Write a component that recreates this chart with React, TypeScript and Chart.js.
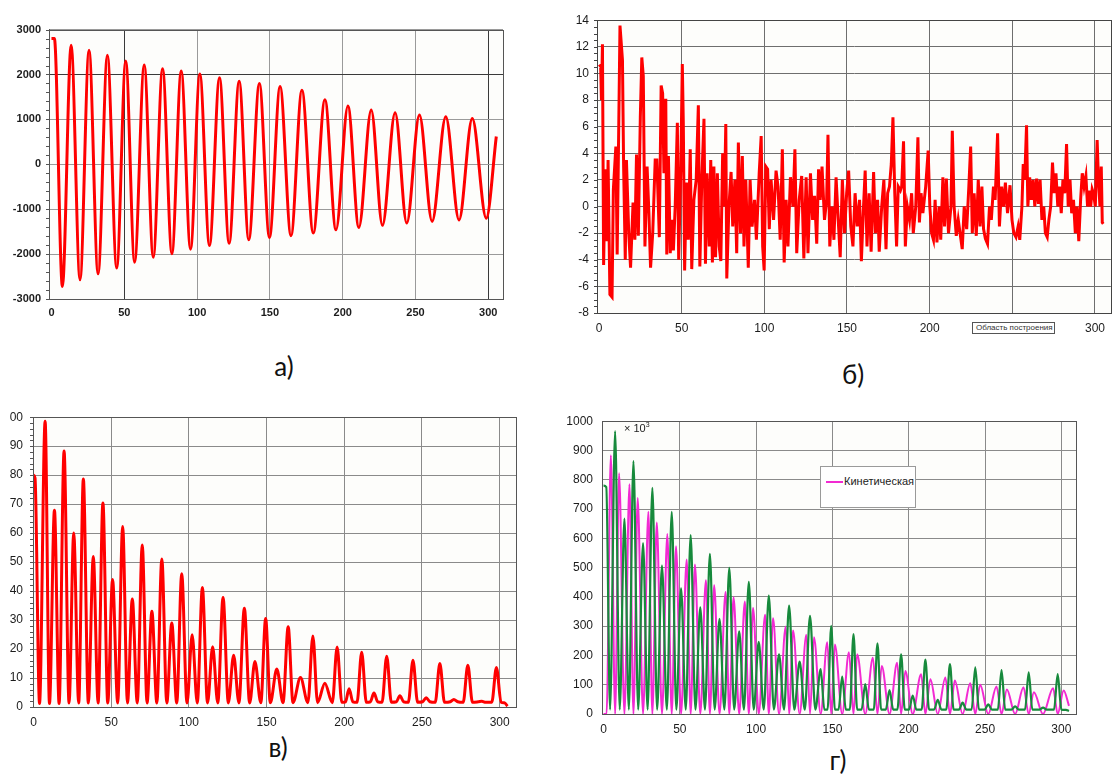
import React, { useEffect, useRef } from 'react';
import { Chart, registerables } from 'chart.js';

Chart.register(...registerables);

const FONT = "'Liberation Sans', Arial, sans-serif";

// ---------------- DATA ----------------
const xTicks = [0, 50, 100, 150, 200, 250, 300];

// а) displacement
const aYTicks = [-3000, -2000, -1000, 0, 1000, 2000, 3000];
const aX = [0, 2, 7.5, 13.5, 19.6, 25.8, 32.0, 38.4, 44.8, 51.0, 57.1, 63.7, 69.9, 76.3, 82.7, 89.1, 95.5, 101.9, 108.5, 115.4, 122.0, 128.9, 135.5, 142.8, 149.7, 157.0, 164.5, 172.0, 179.8, 187.8, 195.4, 203.6, 211.1, 219.6, 227.3, 236.0, 244.0, 252.7, 261.4, 270.8, 279.9, 289.0, 298.6, 305.5];
const aY = [2800, 2800, -2720, 2650, -2570, 2540, -2440, 2430, -2310, 2300, -2180, 2210, -2070, 2130, -1990, 2080, -1890, 2010, -1810, 1930, -1760, 1850, -1680, 1800, -1630, 1730, -1590, 1650, -1530, 1440, -1460, 1300, -1410, 1210, -1360, 1150, -1310, 1100, -1270, 1060, -1240, 1020, -1200, 620];

// б) noisy signal
const bYTicks = [-8, -6, -4, -2, 0, 2, 4, 6, 8, 10, 12, 14];
const bSignal: [number, number][] = [
  [0, 10.5], [1.0, 10.6], [1.5, 8.0], [2.1, 12.2], [2.8, -4.4], [3.8, 2.8], [4.9, -2.6], [5.5, 3.5], [6.6, -6.6], [7.9, -6.8],
  [8.7, 1.3], [10.2, 4.5], [11.0, -3.6], [12.7, 13.6], [14.2, 11], [14.9, 3], [15.9, -4], [16.6, 3.5], [18, -2], [19.1, -4.6],
  [20.6, 0.3], [21.7, -2.5], [22.7, 3.9], [23.8, -2.2], [25, 6.7], [25.9, 11.2], [26.8, 9.8], [27.8, -3], [29.1, 3], [30.2, -0.5],
  [31.2, -4.6], [32.5, -2], [34, 3.5], [35, 3.5], [36.5, -2.3], [37.6, 9.1], [38.5, 8.5], [39.3, 2.5], [40.4, 8.1], [41, -3.6],
  [42, 3.8], [43.1, -3.5], [44.2, -1], [45, -3.3], [46.1, 0], [47.4, 6.3], [48.2, -4], [49.5, 3], [50.4, 10.7], [51, 6.3],
  [51.8, -4.8], [52.9, 1.8], [54, -2.5], [55.2, 4.3], [56.1, -4.7], [57.4, 0.5], [58.8, 2], [60.1, 7.6], [61, -4.5], [62.2, 2],
  [63.5, 6.6], [64.4, -4.3], [65.4, 2.5], [66.7, -3], [67.6, 3.5], [68.6, -4.2], [69.5, 3], [70.5, -3.8], [71.6, 2.5], [72.7, -3],
  [73.7, -4.1], [74.8, 4], [75.8, 0], [76.7, 6.2], [77.3, -5.4], [78.6, 0], [79.9, 2.6], [80.9, -1.5], [82.2, 2], [83.3, -3.5],
  [84.3, 4.8], [85.6, -2], [86.7, 3.8], [87.7, -3], [88.8, 2], [90.3, -4.6], [91.4, 2], [92.6, -1.5], [94.1, 0.5], [95.2, -2.5],
  [96.9, 2.5], [98.1, 5.3], [99, -3], [99.9, -4.8], [100.9, 3], [102, 2.8], [103, -1.7], [104.1, 2], [105.6, -1], [107.1, 2.7],
  [108.3, 1.5], [109.6, -2.5], [110.9, 4.3], [112, -4.2], [113.2, 0.5], [114.3, -3], [115.8, 2.2], [117.3, 0], [118.5, 4.3], [119.6, -3.5],
  [121.1, 0.5], [122.6, 2.3], [123.9, -3.9], [125.3, 2.2], [126.4, -3.5], [127.9, 2.5], [129.2, -1], [130.4, 0.8], [131.7, -2.8], [132.8, 2.8],
  [133.8, 0.5], [134.9, 3], [136.4, -1], [137.7, 0.5], [138.5, 5.4], [139.6, -3], [140.9, 0], [142.1, -2.5], [143.4, 2.2], [144.7, -1],
  [145.9, -3.8], [147.2, 2], [148.5, -2], [149.8, 1], [151, 2.7], [152.3, -1.5], [153.6, -3], [154.9, 1], [156.2, -1.5], [157.6, 0.5],
  [158.7, -4.1], [160, 0], [161, 2.7], [162.1, -3], [163.4, 1], [164.6, -3.4], [166.1, 2.6], [167.2, -2], [168.5, 0.5], [169.5, -3.4],
  [171, 0], [172.3, 2], [173.6, -3.2], [174.6, 1], [175.7, 1.5], [176.8, 3.2], [177.8, 6.7], [178.9, 1], [180, -3], [181, 1.5],
  [182.3, 1.2], [183.1, 1.5], [184.2, 4.9], [185.3, -3], [186.5, 0], [187.8, -1], [189.1, 1], [190.1, -2], [191.6, 0], [192.9, 5.2],
  [193.8, -1.2], [194.8, 1], [195.9, -0.5], [197.6, 1.5], [199.1, 4.2], [200.1, 0], [201.2, -2], [202.3, -2.5], [203.3, 0.5], [204.4, -2.7],
  [205.7, 0], [206.7, -2.5], [208, 2.2], [209, -1.5], [210.1, 2.1], [211.4, -2], [212.9, 0], [213.7, 5.7], [214.8, 0], [216.1, -2.2],
  [217.3, -1], [218.4, -2], [219.7, -3.2], [220.9, 0], [222.4, -1.7], [223.7, 1.5], [224.8, 4.5], [225.8, -2], [226.9, 1], [228.2, -2.2],
  [229.4, 2], [230.5, -1.5], [231.6, 1.5], [232.6, -1.7], [233.7, -2.4], [235, -2.8], [236.2, 0], [237.3, -1], [238.6, 1.5], [239.6, 0.5],
  [241.1, 5.5], [242.2, -1.5], [243.5, 1.5], [244.7, 0], [245.8, 1.8], [247.1, -0.5], [248.6, 1.6], [249.8, -1], [250.9, -2], [252.2, -2.3],
  [253.5, -1.5], [254.5, -2.5], [255.8, 0], [256.6, 3.2], [257.5, 2], [258.6, 6.1], [259.4, 0], [260.5, 2.2], [261.5, 0.5], [262.6, 2],
  [263.6, 0], [264.7, 2.1], [265.8, 0.2], [266.8, 2], [267.9, -1], [269, 0], [270, -2], [271.1, -2.3], [272.1, -1], [273.2, 0],
  [274.3, 3.3], [275.3, 1], [276.4, 2.5], [277.5, 0], [278.5, 1.5], [279.6, -0.5], [280.6, 2], [281.7, 1], [282.8, 4.7], [283.8, 0],
  [284.9, 2], [285.9, -0.5], [287, 0.5], [288.1, -2], [289.1, 0], [290.2, -2.6], [291.3, 0.5], [292.3, 2.5], [293.4, 1.5], [294.5, 2.3],
  [295.5, 0], [296.4, 1.2], [297.4, 0], [298.3, 1.3], [299.1, 1], [300.2, 0], [301.3, 5], [302.1, 2], [303, 0], [303.8, 3],
  [304.4, -1.2], [305, -1.3],
];

// в) energy-like series
const cYTicks = [0, 10, 20, 30, 40, 50, 60, 70, 80, 90, 100];
const cSeries: [number, number][] = [
  [0, 80], [1.0, 79], [3.9, 1.2], [7.5, 98.6], [10.3, 1.2], [13.5, 67.9], [16.5, 1.2], [19.7, 88.3], [22.9, 1.4], [25.9, 60],
  [29.1, 1.4], [32.1, 78.7], [35.3, 1.4], [38.5, 51.9], [41.6, 1.4], [44.7, 70.4], [47.8, 1.4], [50.9, 44], [54.2, 1.4], [57.4, 62.3],
  [60.5, 1.4], [63.6, 37.3], [66.8, 1.4], [70.0, 55.9], [73.1, 1.4], [76.2, 33], [79.4, 1.4], [82.6, 51.1], [85.8, 1.4], [89.0, 29],
  [92.2, 1.4], [95.4, 46], [98.8, 1.4], [102.1, 24.9], [105.4, 1.4], [108.7, 41.2], [112.0, 1.4], [115.3, 20.8], [118.6, 1.4], [122.0, 37.8],
  [125.4, 1.4], [128.8, 17.9], [132.2, 1.4], [135.7, 34.1], [139.1, 1.4], [142.5, 15.7], [146.3, 1.5], [149.4, 30.5], [152.4, 1.5], [156.6, 13.1],
  [160.6, 1.5], [163.9, 27.7], [167.0, 1.5], [171.8, 10.2], [176.6, 1.5], [179.8, 24.5], [182.8, 1.5], [187.5, 8.2], [192.3, 1.5], [195.4, 20.7],
  [198.4, 1.6], [200.8, 1.8], [203.1, 6.3], [205.5, 1.8], [208.2, 1.6], [211.2, 18.9], [214.2, 1.6], [216.8, 1.8], [219.1, 4.8], [221.5, 1.8],
  [224.3, 1.6], [227.3, 17.5], [230.3, 1.6], [233.5, 1.8], [235.8, 3.9], [238.2, 1.8], [241.2, 1.6], [244.2, 16.1], [247.2, 1.6], [250.4, 1.8],
  [252.7, 3.2], [255.1, 1.8], [258.5, 1.6], [261.5, 15], [264.5, 1.6], [268.2, 1.8], [270.5, 2.6], [273.0, 1.8], [276.5, 1.6], [279.5, 14.4],
  [282.5, 1.6], [286.2, 1.8], [288.5, 2.0], [291.0, 1.6], [294.9, 1.6], [297.9, 13.6], [300.9, 1.6], [303.0, 1.5], [305.0, 0.3],
];

// г) potential (green) and kinetic (magenta), ×10³
const dYTicks = [0, 100, 200, 300, 400, 500, 600, 700, 800, 900, 1000];
const dPotential: [number, number][] = [
  [0, 780], [1.8, 775], [4.3, 15], [7.6, 966], [10.6, 15], [13.7, 667], [16.6, 15], [19.6, 864], [22.7, 15], [25.9, 584],
  [28.9, 15], [32.0, 772], [35.1, 15], [38.3, 507], [41.5, 15], [44.7, 690], [47.7, 15], [50.8, 429], [53.9, 15], [57.1, 611],
  [60.2, 15], [63.4, 364], [66.5, 15], [69.7, 547], [72.8, 15], [76.0, 325], [79.2, 15], [82.4, 499], [85.6, 15], [88.9, 282],
  [92.0, 15], [95.2, 451], [98.4, 15], [101.7, 246], [105.0, 15], [108.3, 404], [111.6, 15], [115.0, 204], [118.3, 15], [121.6, 370],
  [125.0, 15], [128.5, 179], [131.9, 15], [135.3, 335], [138.8, 15], [142.3, 153], [144.7, 15], [146.8, 15], [149.2, 301], [151.6, 15],
  [154.0, 15], [156.4, 128], [158.8, 15], [161.4, 15], [163.8, 273], [166.2, 15], [169.1, 15], [171.5, 102], [173.9, 15], [177.1, 15],
  [179.5, 241], [181.9, 15], [185.0, 15], [187.4, 82], [189.8, 15], [192.6, 15], [195.0, 204], [197.4, 15], [200.2, 15], [202.6, 63],
  [205.0, 15], [208.5, 15], [210.9, 186], [213.3, 15], [216.6, 15], [219.0, 48], [221.4, 15], [224.6, 15], [227.0, 170], [229.4, 15],
  [232.9, 15], [235.3, 39], [237.7, 15], [241.2, 15], [243.6, 159], [246.0, 15], [249.7, 15], [252.1, 33], [254.5, 15], [258.4, 15],
  [260.8, 150], [263.2, 15], [267.3, 15], [269.7, 26], [272.1, 15], [276.2, 15], [278.6, 142], [281.0, 15], [285.6, 15], [288.0, 22],
  [290.4, 15], [295.2, 15], [297.6, 136], [300.0, 15], [303.0, 14], [305.0, 10],
];
const dKinetic: [number, number][] = [
  [0, 0], [2.0, 0], [4.8, 884], [7.6, 0], [10.2, 822], [13.7, 0], [17.0, 785], [19.6, 0], [22.4, 738], [25.9, 0],
  [29.4, 691], [32.0, 0], [34.9, 654], [38.3, 0], [41.8, 615], [44.7, 0], [47.5, 573], [50.8, 0], [54.5, 528], [57.1, 0],
  [59.9, 511], [63.4, 0], [67.1, 457], [69.7, 0], [72.5, 440], [76.0, 0], [80.0, 417], [82.4, 0], [85.2, 399], [88.9, 0],
  [92.6, 384], [95.2, 0], [98.0, 362], [101.7, 0], [105.9, 339], [108.3, 0], [111.1, 327], [115.0, 0], [119.4, 299], [121.6, 0],
  [124.2, 285], [128.5, 0], [132.9, 271], [135.3, 0], [137.9, 262], [142.3, 0], [146.6, 245], [149.2, 0], [151.6, 237], [156.4, 0],
  [160.8, 211], [163.8, 0], [166.2, 204], [171.5, 0], [176.5, 192], [179.5, 0], [182.3, 164], [187.4, 0], [192.4, 175], [195.0, 0],
  [197.8, 147], [202.6, 0], [208.1, 136], [210.9, 0], [214.2, 119], [219.0, 0], [224.0, 125], [227.0, 0], [230.2, 114], [235.3, 0],
  [240.3, 105], [243.6, 0], [246.8, 100], [252.1, 0], [257.5, 94], [260.8, 0], [264.3, 84], [269.7, 0], [275.2, 91], [278.6, 0],
  [282.0, 74], [288.0, 0], [294.6, 88], [297.6, 0], [301.5, 80], [305.0, 28],
];

// ---------------- HELPERS ----------------
const toPts = (pairs: [number, number][]) => pairs.map(([x, y]) => ({ x, y }));

const framePlugin = {
  id: 'frame',
  beforeDraw(chart: any, _a: any, o: any) {
    const { ctx, chartArea: a } = chart;
    ctx.save();
    ctx.fillStyle = o.bg;
    ctx.fillRect(a.left, a.top, a.right - a.left, a.bottom - a.top);
    ctx.restore();
  },
  afterDraw(chart: any, _a: any, o: any) {
    const { ctx, chartArea: a } = chart;
    ctx.save();
    ctx.strokeStyle = o.color;
    ctx.lineWidth = 1;
    ctx.strokeRect(Math.round(a.left) + 0.5, Math.round(a.top) + 0.5, Math.round(a.right - a.left), Math.round(a.bottom - a.top));
    if (o.minorStep) {
      const ys = chart.scales.y;
      for (let v = ys.min; v <= ys.max + 1e-9; v += o.minorStep) {
        const y = Math.round(ys.getPixelForValue(v)) + 0.5;
        ctx.beginPath();
        ctx.moveTo(a.left - o.minorLen, y);
        ctx.lineTo(a.left, y);
        ctx.stroke();
      }
    }
    ctx.restore();
  },
};

type Cfg = {
  datasets: any[];
  xMin: number; xMax: number; yMin: number; yMax: number; yTicks: number[];
  yWidth: number; xHeight: number; padTop: number; padRight: number;
  fontSize: number; fontWeight: string; yPad: number; xPad: number;
  gridColor: string; darkColor: string; darkX: number[]; darkY: number[]; hideX: number[];
  minorStep: number; bg: string; frame: string;
};

function buildConfig(c: Cfg): any {
  const font = { family: FONT, size: c.fontSize, weight: c.fontWeight };
  return {
    type: 'line',
    data: { datasets: c.datasets },
    plugins: [framePlugin],
    options: {
      responsive: false,
      animation: false,
      events: [],
      layout: { padding: { left: 0, top: c.padTop, right: c.padRight, bottom: 0 } },
      elements: { point: { radius: 0 } },
      plugins: {
        legend: { display: false },
        tooltip: { enabled: false },
        frame: { bg: c.bg, color: c.frame, minorStep: c.minorStep, minorLen: 3 },
      },
      scales: {
        x: {
          type: 'linear', min: c.xMin, max: c.xMax,
          afterBuildTicks: (s: any) => { s.ticks = xTicks.map((v) => ({ value: v })); },
          afterFit: (s: any) => { s.height = c.xHeight; },
          ticks: { autoSkip: false, maxRotation: 0, minRotation: 0, padding: c.xPad, color: '#1c1c1c', font, callback: (v: any) => String(v) },
          grid: {
            drawTicks: false, lineWidth: 1,
            color: (ctx: any) => {
              const v = ctx.tick ? ctx.tick.value : null;
              if (c.hideX.includes(v)) return 'rgba(0,0,0,0)';
              return c.darkX.includes(v) ? c.darkColor : c.gridColor;
            },
          },
          border: { display: true, color: c.frame },
        },
        y: {
          type: 'linear', min: c.yMin, max: c.yMax,
          afterBuildTicks: (s: any) => { s.ticks = c.yTicks.map((v) => ({ value: v })); },
          afterFit: (s: any) => { s.width = c.yWidth; },
          ticks: { autoSkip: false, padding: c.yPad, color: '#1c1c1c', font, callback: (v: any) => String(v) },
          grid: {
            drawTicks: false, lineWidth: 1,
            color: (ctx: any) => {
              const v = ctx.tick ? ctx.tick.value : null;
              return c.darkY.includes(v) ? c.darkColor : c.gridColor;
            },
          },
          border: { display: true, color: c.frame },
        },
      },
    },
  };
}

function ChartBox(props: { left: number; top: number; width: number; height: number; make: () => any }) {
  const ref = useRef<HTMLCanvasElement>(null);
  useEffect(() => {
    const chart = new Chart(ref.current as HTMLCanvasElement, props.make());
    return () => chart.destroy();
  }, []);
  return (
    <canvas
      ref={ref}
      width={props.width}
      height={props.height}
      style={{ position: 'absolute', left: props.left, top: props.top, width: props.width, height: props.height }}
    />
  );
}

const RED = '#ff0000';
const GREEN = '#178a3c';
const MAGENTA = '#f22ad2';
const PLOT_BG = '#fdfdfb';

const makeA = () =>
  buildConfig({
    datasets: [{
      data: aX.map((x, i) => ({ x, y: aY[i] })),
      borderColor: RED, borderWidth: 3, cubicInterpolationMode: 'monotone', fill: false,
    }],
    xMin: -1.7, xMax: 310.1, yMin: -3000, yMax: 3000, yTicks: aYTicks,
    yWidth: 49, xHeight: 31, padTop: 14, padRight: 17,
    fontSize: 11, fontWeight: 'bold', yPad: 8, xPad: 7,
    gridColor: '#9a9a9a', darkColor: '#3a3a3a', darkX: [50, 300], darkY: [2000], hideX: [0],
    minorStep: 200, bg: PLOT_BG, frame: '#555555',
  });

const makeB = () =>
  buildConfig({
    datasets: [{
      data: toPts(bSignal),
      borderColor: RED, borderWidth: 3, tension: 0, fill: false,
    }],
    xMin: -1.2, xMax: 309.6, yMin: -8, yMax: 14, yTicks: bYTicks,
    yWidth: 37, xHeight: 27, padTop: 12, padRight: 0,
    fontSize: 12, fontWeight: 'normal', yPad: 8, xPad: 8,
    gridColor: '#6e6e6e', darkColor: '#6e6e6e', darkX: [], darkY: [], hideX: [0],
    minorStep: 0.5, bg: PLOT_BG, frame: '#444444',
  });

const makeC = () =>
  buildConfig({
    datasets: [{
      data: toPts(cSeries),
      borderColor: RED, borderWidth: 3, cubicInterpolationMode: 'monotone', fill: false,
    }],
    xMin: -0.3, xMax: 310.5, yMin: 0, yMax: 100, yTicks: cYTicks,
    yWidth: 23, xHeight: 23, padTop: 11, padRight: 24,
    fontSize: 12, fontWeight: 'normal', yPad: 10, xPad: 8,
    gridColor: '#8a8a8a', darkColor: '#8a8a8a', darkX: [], darkY: [], hideX: [0],
    minorStep: 2, bg: PLOT_BG, frame: '#555555',
  });

const makeD = () =>
  buildConfig({
    datasets: [
      {
        label: 'Потенциальная',
        data: toPts(dPotential),
        borderColor: GREEN, borderWidth: 2.2, cubicInterpolationMode: 'monotone', fill: false,
      },
      {
        label: 'Кинетическая',
        data: toPts(dKinetic),
        borderColor: MAGENTA, borderWidth: 2, cubicInterpolationMode: 'monotone', fill: false,
      },
    ],
    xMin: -1.0, xMax: 309.6, yMin: 0, yMax: 1000, yTicks: dYTicks,
    yWidth: 42, xHeight: 26, padTop: 12, padRight: 37,
    fontSize: 12, fontWeight: 'normal', yPad: 9, xPad: 8,
    gridColor: '#8a8a8a', darkColor: '#8a8a8a', darkX: [], darkY: [], hideX: [0],
    minorStep: 0, bg: PLOT_BG, frame: '#555555',
  });

const panelLabel = (text: string, cx: number, cy: number) => (
  <div
    style={{
      position: 'absolute', left: cx - 30, top: cy - 15, width: 60, height: 30,
      textAlign: 'center', lineHeight: '30px', fontFamily: "Lato, 'Open Sans', sans-serif", fontSize: 26, color: '#111',
    }}
  >
    {text}
  </div>
);

export default function App() {
  return (
    <div style={{ position: 'absolute', left: 0, top: 0, width: 1113, height: 779, background: '#ffffff', overflow: 'hidden' }}>
      <ChartBox left={0} top={15} width={520} height={315} make={makeA} />
      <ChartBox left={560} top={5} width={553} height={335} make={makeB} />
      <ChartBox left={10} top={400} width={530} height={330} make={makeC} />
      <ChartBox left={560} top={405} width={553} height={335} make={makeD} />

      <div
        style={{
          position: 'absolute', left: 972, top: 322, width: 83, height: 12, boxSizing: 'border-box',
          border: '1px solid #555', background: '#fff', fontFamily: FONT, fontSize: 8, lineHeight: '10px',
          color: '#333', paddingLeft: 3, whiteSpace: 'nowrap',
        }}
      >
        Область построения
      </div>

      <div
        style={{
          position: 'absolute', left: 624, top: 421, fontFamily: FONT, fontSize: 11, color: '#222', whiteSpace: 'nowrap',
        }}
      >
        × 10<sup style={{ fontSize: 7 }}>3</sup>
      </div>

      <div
        style={{
          position: 'absolute', left: 820, top: 466, width: 96, height: 42, boxSizing: 'border-box',
          border: '1px solid #9a9a9a', background: '#fff',
        }}
      >
        <div style={{ position: 'absolute', left: 5, top: 14, width: 17, height: 2, background: MAGENTA }} />
        <div
          style={{
            position: 'absolute', left: 23, top: 8, fontFamily: FONT, fontSize: 11, lineHeight: '13px', color: '#222', whiteSpace: 'nowrap',
          }}
        >
          Кинетическая
        </div>
      </div>

      {panelLabel('а)', 284, 366)}
      {panelLabel('б)', 853, 374)}
      {panelLabel('в)', 278, 747)}
      {panelLabel('г)', 838, 760)}
    </div>
  );
}
